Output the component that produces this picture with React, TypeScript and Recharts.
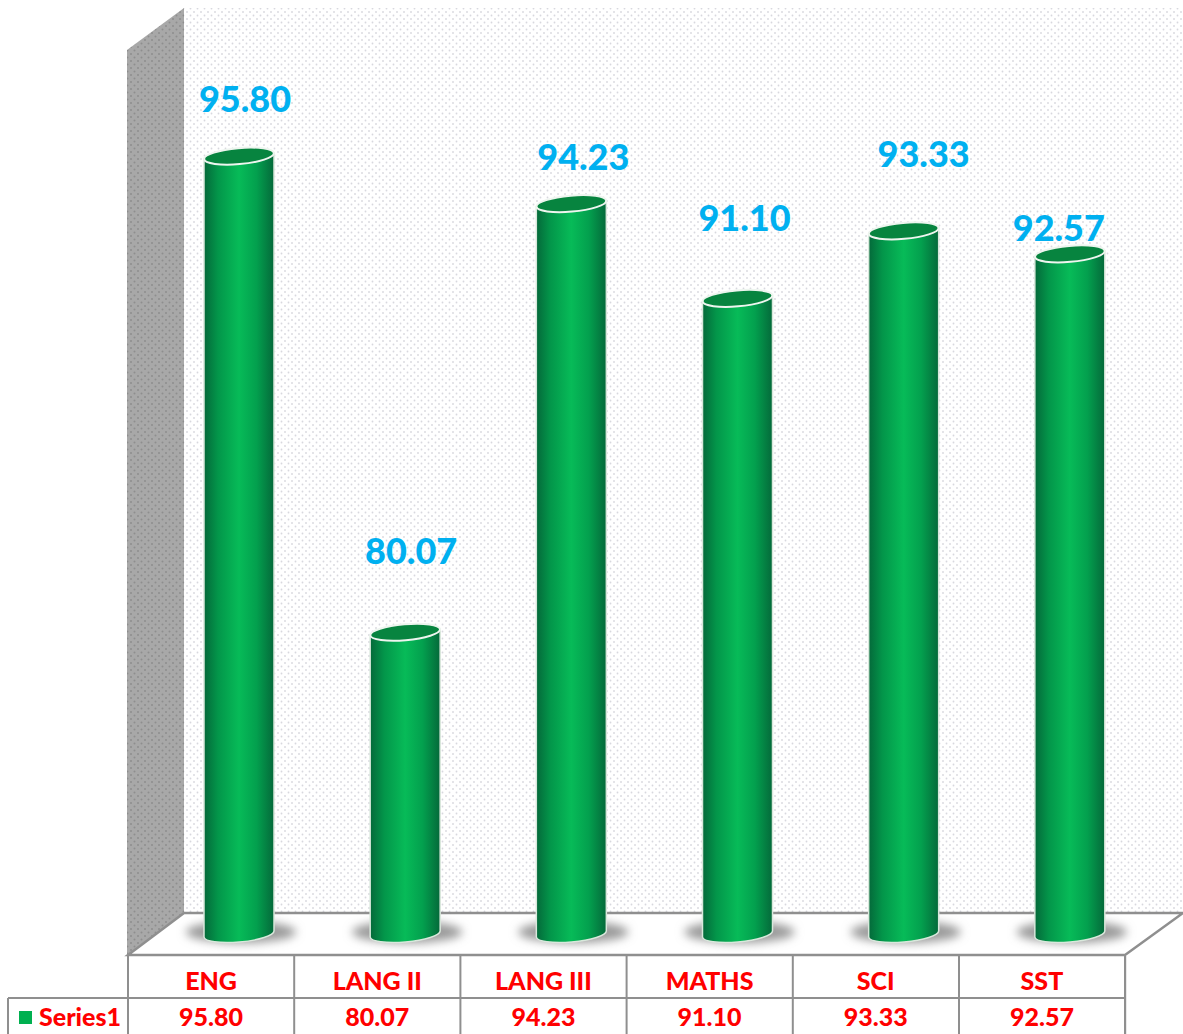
import React from 'react';
import { Bar, BarChart, Customized, LabelList, XAxis, YAxis } from 'recharts';

const categories = ['ENG', 'LANG II', 'LANG III', 'MATHS', 'SCI', 'SST'];
const scores = [95.8, 80.07, 94.23, 91.1, 93.33, 92.57];
const seriesName = 'Series1';

// the labels were dragged by hand in the original, so each has its own nudge
const labelNudgeX = [6, 6, 12, 7, 20, -11];
const labelNudgeY = [-44, -68, -34, -67, -64, -13];

const chartData = categories.map((name, i) => ({ name, score: scores[i], index: i }));

const FONT = 'Lato, sans-serif';
const GREY = '#8f8f8f';
const depth = 28;

const Defs = () => (
  <defs>
    <pattern id="backDots" width="7" height="7" patternUnits="userSpaceOnUse">
      <rect width="7" height="7" fill="#fff" />
      <circle cx="1.5" cy="1.5" r="0.9" fill="#d8d8de" />
      <circle cx="5" cy="5" r="0.9" fill="#d8d8de" />
    </pattern>
    <pattern id="sideDots" width="7" height="7" patternUnits="userSpaceOnUse">
      <rect width="7" height="7" fill="#a8a8a8" />
      <circle cx="1.5" cy="1.5" r="1" fill="#8e8e8e" />
      <circle cx="5" cy="5" r="1" fill="#8e8e8e" />
    </pattern>
    <linearGradient id="tube" x1="0" y1="0" x2="1" y2="0">
      <stop offset="0%" stopColor="#04693a" />
      <stop offset="20%" stopColor="#03964a" />
      <stop offset="50%" stopColor="#07bb58" />
      <stop offset="75%" stopColor="#03a04e" />
      <stop offset="100%" stopColor="#04693a" />
    </linearGradient>
    <filter id="soft" x="-30%" y="-100%" width="160%" height="300%">
      <feGaussianBlur stdDeviation="5" />
    </filter>
  </defs>
);

const Walls = () => (
  <g>
    <Defs />
    <polygon points="184,8 1183,8 1183,913 184,913" fill="url(#backDots)" />
    <polygon points="127,50 184,8 184,913 127,955" fill="url(#sideDots)" />
    <polygon points="128,955 184,913 1183,913 1125,955" fill="#fff" />
    <path d="M184 913H1183L1125 955H128L184 913" fill="none" stroke={GREY} strokeWidth={2.5} />
    <path d="M128 956V1034M8 998H1125M8 998V1034M1125 955V1034" fill="none" stroke={GREY} strokeWidth={2} />
    {categories.map((c, i) => (
      <line key={c} x1={128 + (i + 1) * 166.2} x2={128 + (i + 1) * 166.2} y1={956} y2={1034} stroke={GREY} strokeWidth={2} />
    ))}
    <rect x={19} y={1011} width={13} height={13} fill="#00b050" />
    <text x={39} y={1026} fontFamily={FONT} fontSize={25} fontWeight={900} fill="#ff0000">
      {seriesName}
    </text>
  </g>
);

const Cylinder = (props: any) => {
  const { x, y, width, height } = props;
  const cx = x + width / 2;
  const rx = width / 2;
  const ry = 8;
  const bottom = y + height - 3;
  return (
    <g>
      <ellipse cx={cx + 2} cy={bottom - 2} rx={rx + 20} ry={11} fill="#9a9a9a" filter="url(#soft)" />
      <path
        d={`M${x} ${y + 3}V${bottom + 3}A${rx} ${ry} -5 0 0 ${x + width} ${bottom - 3}V${y - 3}Z`}
        fill="url(#tube)"
        stroke="#d9e8dc"
        strokeWidth={1.5}
      />
      <ellipse
        cx={cx}
        cy={y}
        rx={rx}
        ry={ry}
        transform={`rotate(-5 ${cx} ${y})`}
        fill="#07843f"
        stroke="#eef5ef"
        strokeWidth={2}
      />
    </g>
  );
};

const ScoreLabel = (props: any) => {
  const { x, y, width, value, index } = props;
  return (
    <text
      x={x + width / 2 + labelNudgeX[index]}
      y={y + labelNudgeY[index]}
      textAnchor="middle"
      fontFamily={FONT}
      fontSize={36}
      fontWeight={900}
      fill="#00b0f0"
    >
      {value.toFixed(2)}
    </text>
  );
};

const TableTick = (props: any) => {
  const { x, payload, index } = props;
  const cellX = x - depth;
  return (
    <g fontFamily={FONT} fontSize={25} fontWeight={900} fill="#ff0000" textAnchor="middle">
      <text x={cellX} y={990}>{payload.value}</text>
      <text x={cellX} y={1026}>{scores[index].toFixed(2)}</text>
    </g>
  );
};

export default function App() {
  return (
    <div style={{ position: 'absolute', left: 0, top: 0, width: 1183, height: 1034, overflow: 'hidden' }}>
      <BarChart
        width={1183}
        height={1034}
        data={chartData}
        margin={{ top: 29, right: 30, bottom: 0, left: 156 }}
      >
        <Customized component={Walls} />
        <XAxis dataKey="name" height={97} axisLine={false} tickLine={false} tick={<TableTick />} interval={0} />
        <YAxis hide domain={[70, 100]} />
        <Bar dataKey="score" barSize={70} shape={<Cylinder />} isAnimationActive={false}>
          <LabelList dataKey="score" content={<ScoreLabel />} />
        </Bar>
      </BarChart>
    </div>
  );
}
